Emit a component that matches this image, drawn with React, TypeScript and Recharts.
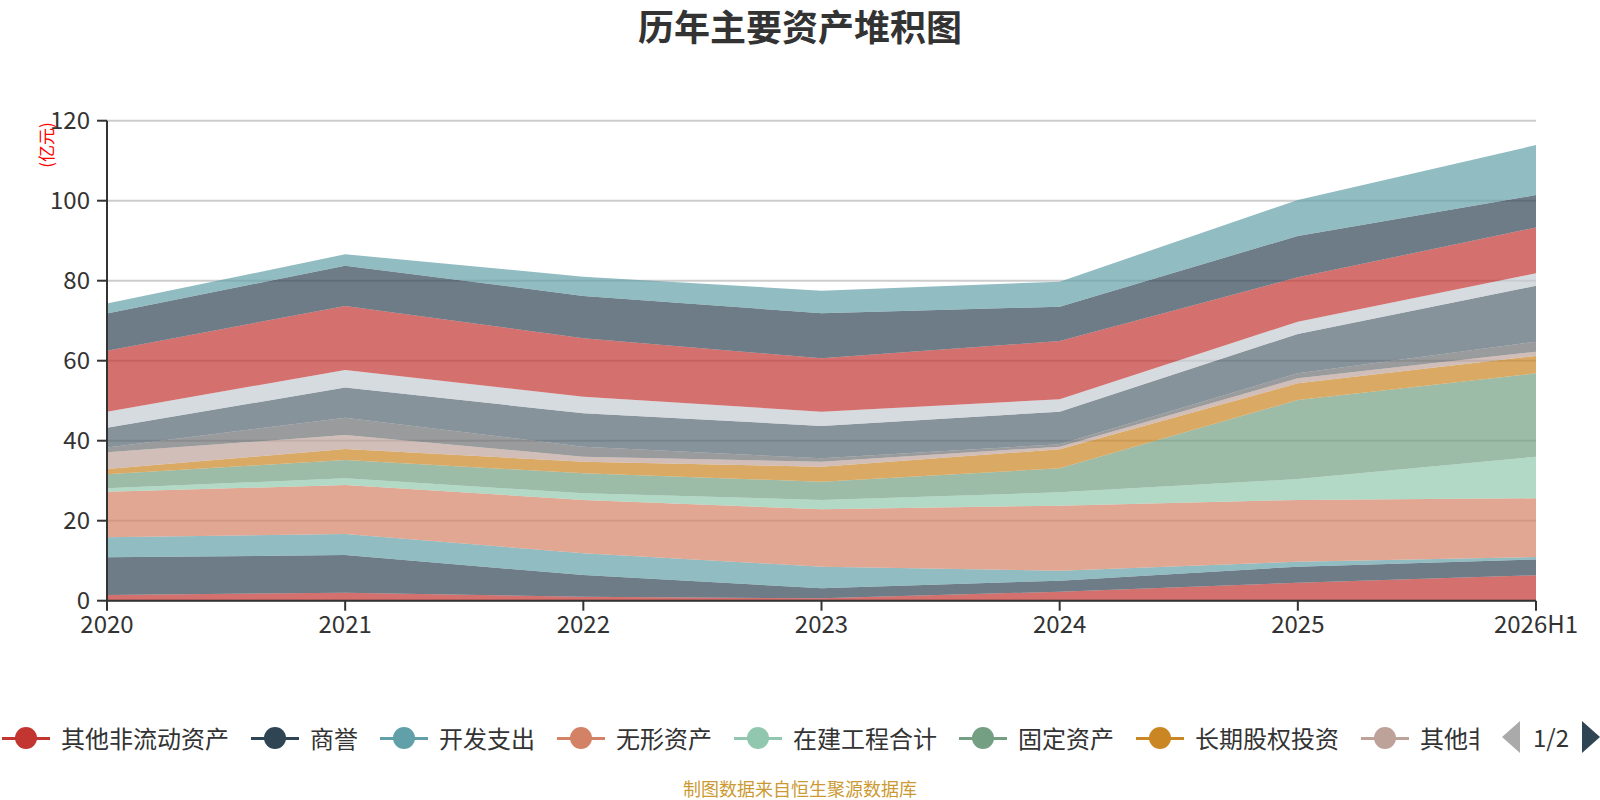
import { AreaChart, Area, XAxis, YAxis, CartesianGrid } from "recharts";

const FONT = '"Noto Sans CJK SC", "Noto Sans", sans-serif';

const years = ["2020", "2021", "2022", "2023", "2024", "2025", "2026H1"];

// 单位：亿元，自下而上堆叠
const otherNonCurrent = [1.4, 2.0, 1.0, 0.6, 2.25, 4.5, 6.35];
const goodwill = [9.45, 9.4, 5.4, 2.5, 2.75, 4.0, 3.95];
const devExpense = [5.0, 5.3, 5.45, 5.4, 2.5, 1.25, 0.6];
const intangible = [11.4, 12.2, 13.35, 14.35, 16.25, 15.45, 14.7];
const construction = [0.85, 1.7, 1.65, 2.35, 3.35, 5.2, 10.4];
const fixedAssets = [3.5, 4.6, 5.0, 4.55, 6.0, 19.8, 20.85];
const ltEquity = [1.3, 2.7, 2.9, 3.75, 4.75, 4.15, 4.35];
const otherNcFinancial = [4.2, 3.5, 1.25, 1.25, 0.65, 1.25, 1.05];
const otherCurrent = [1.2, 4.35, 2.5, 0.85, 0.6, 1.25, 2.5];
const inventory = [4.95, 7.55, 8.35, 8.1, 8.15, 9.85, 14.0];
const prepayments = [4.0, 4.4, 4.15, 3.55, 3.1, 3.05, 3.1];
const receivables = [15.25, 16.0, 14.6, 13.35, 14.55, 11.1, 11.45];
const tradingAssets = [9.3, 10.05, 10.6, 11.25, 8.6, 10.35, 8.1];
const cash = [2.5, 2.85, 4.8, 5.65, 6.25, 9.0, 12.5];

const yTicks = [0, 20, 40, 60, 80, 100, 120];

const series = [
  { name: "其他非流动资产", values: otherNonCurrent, color: "#c23531" },
  { name: "商誉", values: goodwill, color: "#2f4554" },
  { name: "开发支出", values: devExpense, color: "#61a0a8" },
  { name: "无形资产", values: intangible, color: "#d48265" },
  { name: "在建工程合计", values: construction, color: "#91c7ae" },
  { name: "固定资产", values: fixedAssets, color: "#749f83" },
  { name: "长期股权投资", values: ltEquity, color: "#ca8622" },
  { name: "其他非流动金融资产", values: otherNcFinancial, color: "#bda29a" },
  { name: "其他流动资产", values: otherCurrent, color: "#6e7074" },
  { name: "存货", values: inventory, color: "#546570" },
  { name: "预付款项", values: prepayments, color: "#c4ccd3" },
  { name: "应收账款", values: receivables, color: "#c23531" },
  { name: "交易性金融资产", values: tradingAssets, color: "#2f4554" },
  { name: "货币资金", values: cash, color: "#61a0a8" },
];

const rows = years.map((year, i) => {
  const row: Record<string, string | number> = { year };
  series.forEach((s) => {
    row[s.name] = s.values[i];
  });
  return row;
});

// 第一页图例
const legendPage = series.slice(0, 8);

function LegendBar() {
  return (
    <div
      style={{
        position: "absolute",
        left: 2,
        top: 721,
        width: 1479,
        height: 34,
        overflow: "hidden",
        whiteSpace: "nowrap",
        display: "flex",
        alignItems: "center",
      }}
    >
      {legendPage.map((s) => (
        <div
          key={s.name}
          style={{
            display: "flex",
            alignItems: "center",
            flexShrink: 0,
            marginRight: 22,
          }}
        >
          <div style={{ position: "relative", width: 48, height: 24 }}>
            <div
              style={{
                position: "absolute",
                left: 0,
                top: 10.5,
                width: 48,
                height: 3,
                background: s.color,
              }}
            />
            <div
              style={{
                position: "absolute",
                left: 13,
                top: 1,
                width: 22,
                height: 22,
                borderRadius: 11,
                background: s.color,
              }}
            />
          </div>
          <span
            style={{
              marginLeft: 11,
              fontSize: 24,
              lineHeight: "24px",
              color: "#333",
              fontFamily: FONT,
            }}
          >
            {s.name}
          </span>
        </div>
      ))}
    </div>
  );
}

function Pager() {
  return (
    <>
      <div
        style={{
          position: "absolute",
          left: 1502,
          top: 721,
          width: 0,
          height: 0,
          borderTop: "16px solid transparent",
          borderBottom: "16px solid transparent",
          borderRight: "18px solid #aaa",
        }}
      />
      <div
        style={{
          position: "absolute",
          left: 1531,
          top: 723,
          width: 40,
          textAlign: "center",
          fontSize: 24,
          lineHeight: "28px",
          color: "#333",
          fontFamily: FONT,
        }}
      >
        1/2
      </div>
      <div
        style={{
          position: "absolute",
          left: 1582,
          top: 721,
          width: 0,
          height: 0,
          borderTop: "16px solid transparent",
          borderBottom: "16px solid transparent",
          borderLeft: "18px solid #2f4554",
        }}
      />
    </>
  );
}

export default function App() {
  return (
    <div
      style={{
        position: "absolute",
        left: 0,
        top: 0,
        width: 1600,
        height: 800,
        background: "#fff",
        fontFamily: FONT,
        overflow: "hidden",
      }}
    >
      <div
        style={{
          position: "absolute",
          left: 0,
          top: 7,
          width: 1600,
          textAlign: "center",
          fontSize: 36,
          lineHeight: "36px",
          fontWeight: 700,
          color: "#333",
        }}
      >
        历年主要资产堆积图
      </div>

      <div
        style={{
          position: "absolute",
          left: 45,
          top: 145,
          transform: "translate(-50%, -50%) rotate(-90deg)",
          fontSize: 17,
          lineHeight: "17px",
          color: "#ff0000",
          whiteSpace: "nowrap",
        }}
      >
        (亿元)
      </div>

      <AreaChart
        width={1600}
        height={800}
        data={rows}
        margin={{ top: 120.7, right: 64, bottom: 159.3, left: 0 }}
      >
        <CartesianGrid vertical={false} stroke="#ccc" strokeWidth={2} />
        <XAxis
          dataKey="year"
          interval={0}
          height={40}
          tickSize={10}
          tickMargin={5}
          tick={{ fontSize: 24, fill: "#333", fontFamily: FONT }}
          tickLine={{ stroke: "#333", strokeWidth: 2 }}
          axisLine={{ stroke: "#333", strokeWidth: 2 }}
        />
        <YAxis
          width={107}
          domain={[0, 120]}
          ticks={yTicks}
          interval={0}
          tickSize={10}
          tickMargin={7}
          tick={{ fontSize: 24, fill: "#333", fontFamily: FONT }}
          tickLine={{ stroke: "#333", strokeWidth: 2 }}
          axisLine={{ stroke: "#333", strokeWidth: 2 }}
        />
        {series.map((s) => (
          <Area
            key={s.name}
            type="linear"
            dataKey={s.name}
            stackId="assets"
            stroke="none"
            fill={s.color}
            fillOpacity={0.7}
            dot={false}
            activeDot={false}
            isAnimationActive={false}
          />
        ))}
      </AreaChart>

      <LegendBar />
      <Pager />

      <div
        style={{
          position: "absolute",
          left: 0,
          top: 779,
          width: 1600,
          textAlign: "center",
          fontSize: 18,
          lineHeight: "18px",
          color: "#cc9a33",
        }}
      >
        制图数据来自恒生聚源数据库
      </div>
    </div>
  );
}
